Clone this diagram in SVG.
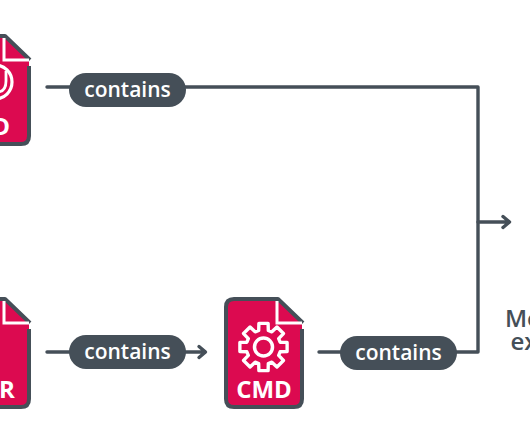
<svg xmlns="http://www.w3.org/2000/svg" width="530" height="442" viewBox="0 0 530 442">
<style>
.c{fill:none;stroke:#454f58;stroke-width:3.400;stroke-linecap:round;stroke-linejoin:round}
.b{fill:#454f58}
.bt{fill:#fff;font:600 21px "Open Sans","Noto Sans",sans-serif;text-anchor:middle}
.dt{fill:#fff;font:700 24px "Open Sans","Noto Sans",sans-serif;text-anchor:middle}
.lb{fill:#454f58;font:600 24px "Open Sans","Noto Sans",sans-serif}
</style>
<defs>
<g id="doc">
<path d="M-69 -54H-25L-1 -31V46Q-1 54 -9 54H-69Q-77 54 -77 46V-46Q-77 -54 -69 -54Z" fill="#dc0a50"/>
<path d="M-1 -24V46Q-1 54 -9 54H-69Q-77 54 -77 46V-46Q-77 -54 -69 -54H-25L0 -30" fill="none" stroke="#454f58" stroke-width="4" stroke-linejoin="round"/>
<path d="M-26 -52V-30H-1" fill="none" stroke="#fff" stroke-width="3"/>
</g>
</defs>
<g id="connectors">
<path class="c" d="M47 87H478V352H319"/>
<path class="c" d="M47 352H205M199 346.500L205.500 352L199 357.500"/>
<path class="c" d="M478 222H509.500M503 216.500L509.500 222L503 227.500"/>
</g>
<g id="node-top"><use href="#doc" x="30" y="90"/><circle cx="-5" cy="82" r="17" fill="none" stroke="#fff" stroke-width="3.200"/><path d="M6 71V81Q6 92 -3 92" fill="none" stroke="#fff" stroke-width="2.800"/><text class="dt" x="1" y="135">D</text></g>
<g id="node-bottom"><use href="#doc" x="30" y="353"/><text class="dt" x="7" y="398">R</text></g>
<g id="node-cmd"><use href="#doc" x="303" y="353"/>
<g transform="translate(263.500 347)" fill="none" stroke="#fff" stroke-width="3.500" stroke-linejoin="round"><circle r="9"/><path transform="scale(.96)" d="M17.300 -5L24.600 -4.800V4.800L17.300 5L15.800 8.700L20.800 14L14 20.800L8.700 15.800L5 17.300L4.800 24.600H-4.800L-5 17.300L-8.700 15.800L-14 20.800L-20.800 14L-15.800 8.700L-17.300 5L-24.600 4.800V-4.800L-17.300 -5L-15.800 -8.700L-20.800 -14L-14 -20.800L-8.700 -15.800L-5 -17.300L-4.800 -24.600H4.800L5 -17.300L8.700 -15.800L14 -20.800L20.800 -14L15.800 -8.700Z"/></g>
<text class="dt" x="264" y="398">CMD</text></g>
<g id="pill-1"><rect class="b" x="69" y="73" width="117" height="34" rx="17"/><text class="bt" x="127.500" y="97">contains</text></g>
<g id="pill-2"><rect class="b" x="69" y="335" width="117" height="34" rx="17"/><text class="bt" x="127.500" y="359">contains</text></g>
<g id="pill-3"><rect class="b" x="340" y="336" width="117" height="34" rx="17"/><text class="bt" x="398.500" y="360">contains</text></g>
<g id="label"><text class="lb" x="505" y="327">Mo</text><text class="lb" x="510.500" y="350">ex</text></g>
</svg>
